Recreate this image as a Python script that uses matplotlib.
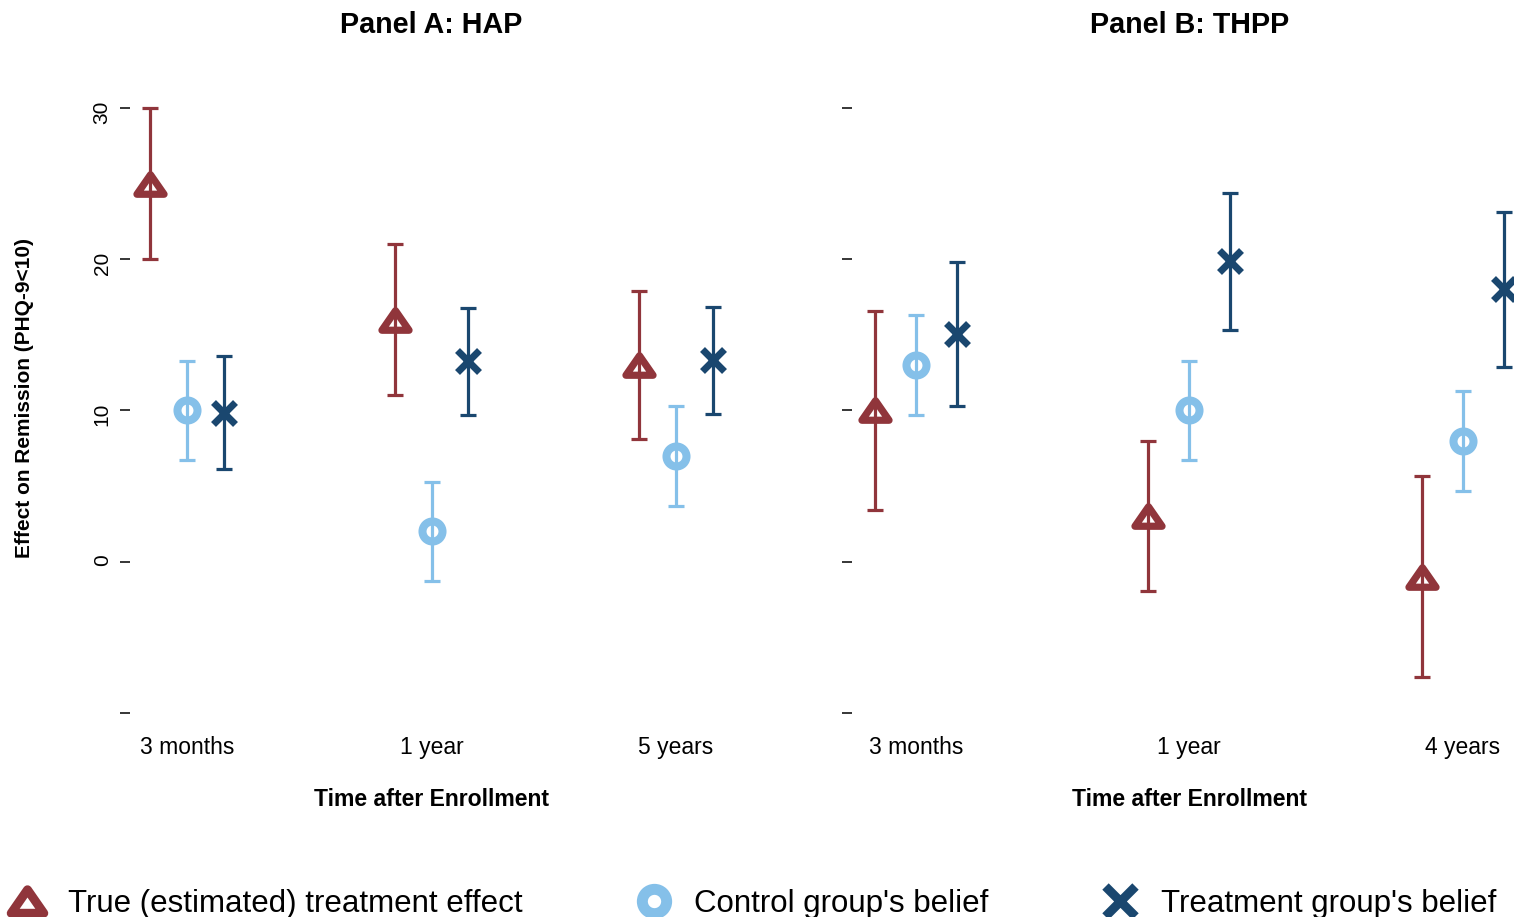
import matplotlib
matplotlib.use('Agg')
import matplotlib.pyplot as plt
import numpy as np
from matplotlib.lines import Line2D
from matplotlib.markers import MarkerStyle
from matplotlib.path import Path

plt.rcParams['font.family'] = ['Liberation Sans', 'DejaVu Sans']

# ---------- data ----------
hap_times = ['3 months', '1 year', '5 years']
hap_true = [25.0, 16.0, 13.0]
hap_true_lo = [20.0, 11.0, 8.1]
hap_true_hi = [30.0, 21.0, 17.9]
hap_ctrl = [10.0, 2.0, 7.0]
hap_ctrl_lo = [6.7, -1.3, 3.7]
hap_ctrl_hi = [13.3, 5.3, 10.3]
hap_treat = [9.85, 13.25, 13.35]
hap_treat_lo = [6.1, 9.7, 9.8]
hap_treat_hi = [13.6, 16.8, 16.85]

thpp_times = ['3 months', '1 year', '4 years']
thpp_true = [10.0, 3.0, -1.0]
thpp_true_lo = [3.45, -1.95, -7.6]
thpp_true_hi = [16.6, 7.95, 5.65]
thpp_ctrl = [13.0, 10.0, 8.0]
thpp_ctrl_lo = [9.7, 6.7, 4.7]
thpp_ctrl_hi = [16.3, 13.3, 11.3]
thpp_treat = [15.05, 19.9, 18.05]
thpp_treat_lo = [10.3, 15.35, 12.9]
thpp_treat_hi = [19.8, 24.4, 23.15]

labels = ['True (estimated) treatment effect', "Control group's belief",
          "Treatment group's belief"]

# ---------- style ----------
RED = '#90353B'
SKY = '#85C0E9'
NAVY = '#1A476F'
GRID = '#E2E2E2'

# flat hollow triangle like stata's "T" symbol
tri_path = Path([(-1, -0.72), (1, -0.72), (0, 0.72), (-1, -0.72)],
                [Path.MOVETO, Path.LINETO, Path.LINETO, Path.CLOSEPOLY])
TRI = MarkerStyle(tri_path, joinstyle='miter')

marker_kw = {
    'true': dict(marker=TRI, ms=19.5, mew=5.2, color=RED),
    'ctrl': dict(marker='o', ms=14.4, mew=5.8, color=SKY),
    'treat': dict(marker='x', ms=15.9, mew=5.0, color=NAVY),
}


def draw_panel(ax, times, series, title):
    x = np.arange(1, len(times) + 1)
    offsets = {'true': -0.15, 'ctrl': 0.0, 'treat': 0.15}
    for key, (val, lo, hi) in series.items():
        val = np.array(val)
        err = [val - np.array(lo), np.array(hi) - val]
        kw = marker_kw[key]
        ax.errorbar(x + offsets[key], val, yerr=err, fmt='none',
                    ecolor=kw['color'], elinewidth=2.3, capsize=6.1,
                    capthick=2.3, zorder=3)
        ax.plot(x + offsets[key], val, ls='none', marker=kw['marker'],
                ms=kw['ms'], mew=kw['mew'], mfc='none', mec=kw['color'],
                zorder=4)

    ax.set_xlim(0.767, 3.233)
    ax.set_ylim(-10.3, 30.3)
    ax.set_xticks(x)
    ax.set_xticklabels(times, fontsize=16.5)
    ax.tick_params(axis='x', length=0, pad=13.5)

    ax.set_yticks([-10, 0, 10, 20, 30])
    ax.set_yticks([0, 10, 20, 30], minor=True)
    ax.tick_params(axis='y', which='major', length=7.2, width=1.1,
                   color='black', labelsize=15, pad=6, labelrotation=90)
    ax.tick_params(axis='y', which='minor', length=0)
    ax.grid(which='minor', axis='y', color=GRID, lw=1.5, zorder=0)
    ax.set_axisbelow(True)

    for s in ax.spines.values():
        s.set_visible(False)

    ax.set_title(title, fontsize=20.7, fontweight='bold', pad=50.8)
    ax.set_xlabel('Time after Enrollment', fontsize=16.6, fontweight='bold')
    ax.xaxis.set_label_coords(0.5, -0.115)


fig = plt.figure(figsize=(15.14, 9.17), dpi=100)
ax_a = fig.add_axes([0.0859, 0.2176, 0.3983, 0.6695])
ax_b = fig.add_axes([0.5628, 0.2176, 0.4455, 0.6695])

draw_panel(ax_a, hap_times, {
    'true': (hap_true, hap_true_lo, hap_true_hi),
    'ctrl': (hap_ctrl, hap_ctrl_lo, hap_ctrl_hi),
    'treat': (hap_treat, hap_treat_lo, hap_treat_hi),
}, 'Panel A: HAP')

draw_panel(ax_b, thpp_times, {
    'true': (thpp_true, thpp_true_lo, thpp_true_hi),
    'ctrl': (thpp_ctrl, thpp_ctrl_lo, thpp_ctrl_hi),
    'treat': (thpp_treat, thpp_treat_lo, thpp_treat_hi),
}, 'Panel B: THPP')

# only panel A carries y tick labels
ax_a.set_yticklabels(['', '0', '10', '20', '30'])
ax_b.set_yticklabels([])
ax_a.set_ylabel('Effect on Remission (PHQ-9<10)', fontsize=15,
                fontweight='bold')
ax_a.yaxis.set_label_coords(-0.16, 0.52)

# legend along the bottom
handles = [
    Line2D([], [], ls='none', marker=TRI, ms=23.5, mew=6.4, mfc='none', mec=RED),
    Line2D([], [], ls='none', marker='o', ms=17.5, mew=7.9, mfc='none', mec=SKY),
    Line2D([], [], ls='none', marker='x', ms=21.3, mew=6.5, mec=NAVY),
]
fig.legend(handles, labels, loc='center left', bbox_to_anchor=(0.0076, 0.0145),
           ncol=3, frameon=False, fontsize=22.5, handlelength=1.0,
           handletextpad=0.8, columnspacing=3.7, borderpad=0,
           borderaxespad=0)

fig.savefig('out.png', dpi=100)
